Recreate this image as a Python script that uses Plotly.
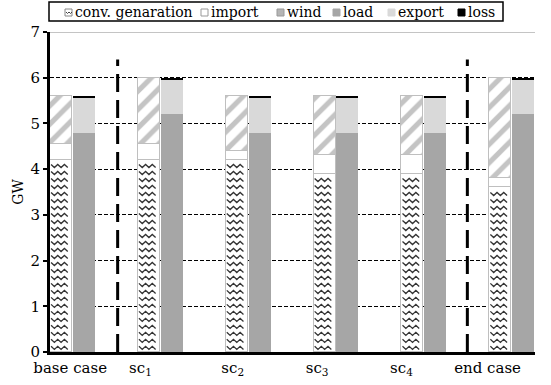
import plotly.graph_objects as go

# ---------------- data ----------------
categories = ["base case", "sc<sub>1</sub>", "sc<sub>2</sub>", "sc<sub>3</sub>", "sc<sub>4</sub>", "end case"]
series_names = ["conv. genaration", "import", "wind", "load", "export", "loss"]
conv_generation = [4.2, 4.2, 4.2, 3.9, 3.9, 3.6]
import_ = [0.35, 0.35, 0.2, 0.4, 0.4, 0.2]
wind = [1.05, 1.45, 1.2, 1.3, 1.3, 2.2]
load = [4.8, 5.2, 4.8, 4.8, 4.8, 5.2]
export = [0.75, 0.75, 0.75, 0.75, 0.75, 0.75]
loss = [0.05, 0.05, 0.05, 0.05, 0.05, 0.05]
y_ticks = [0, 1, 2, 3, 4, 5, 6, 7]

# ---------------- layout constants ----------------
FONT = "DejaVu Serif"
W, H = 551, 385
ML, MR, MT, MB = 50, 16, 32, 33
BAR_W = 0.25
n = len(categories)
left_x = [i - BAR_W / 2 for i in range(n)]
right_x = [i + BAR_W / 2 + 0.01 for i in range(n)]
label_shift = [-0.02, -0.22, -0.17, -0.21, -0.25, -0.27]
separators = [0.52, 4.5]
SEP_TOP = 6.4

C_EDGE = "#bfbfbf"
C_WIND = "#8a8a8a"
C_LOAD = "#a6a6a6"
C_EXPORT = "#d9d9d9"
C_LOSS = "black"
C_ZIG = "#333333"

fig = go.Figure()

edge = dict(color=C_EDGE, width=1)
fig.add_trace(go.Bar(name=series_names[0], x=left_x, y=conv_generation, width=BAR_W,
                     marker=dict(color="white", line=edge)))
fig.add_trace(go.Bar(name=series_names[1], x=left_x, y=import_, width=BAR_W,
                     marker=dict(color="white", line=edge)))
fig.add_trace(go.Bar(name=series_names[2], x=left_x, y=wind, width=BAR_W,
                     marker=dict(color="white", line=edge,
                                 pattern=dict(shape="/", fgcolor=C_WIND, bgcolor="white", size=13, solidity=0.4))))
fig.add_trace(go.Bar(name=series_names[3], x=right_x, y=load, width=BAR_W,
                     marker=dict(color=C_LOAD, line=dict(width=0))))
fig.add_trace(go.Bar(name=series_names[4], x=right_x, y=export, width=BAR_W,
                     marker=dict(color=C_EXPORT, line=dict(width=0))))
fig.add_trace(go.Bar(name=series_names[5], x=right_x, y=loss, width=BAR_W,
                     marker=dict(color=C_LOSS, line=dict(width=0))))

# zigzag texture over the conventional generation bars (derived from the data)
zx, zy = [], []
ROW = 0.153
PER = 0.076
AMP = 0.034
for i in range(n):
    x0 = left_x[i] - BAR_W / 2 + 0.012
    x1 = left_x[i] + BAR_W / 2 - 0.012
    yrow = 0.09
    while yrow < conv_generation[i] - 0.04:
        k = 0
        xx = x0
        while xx <= x1 + 1e-9:
            zx.append(xx)
            zy.append(yrow + (AMP if k % 2 == 0 else -AMP))
            xx += PER / 2
            k += 1
        zx.append(None)
        zy.append(None)
        yrow += ROW
fig.add_trace(go.Scatter(x=zx, y=zy, mode="lines", line=dict(color=C_ZIG, width=1.3),
                         showlegend=False, hoverinfo="skip"))

shapes = []
annotations = []
for s in separators:
    shapes.append(dict(type="line", xref="x", yref="y", x0=s, x1=s, y0=0, y1=SEP_TOP,
                       line=dict(color="black", width=3, dash="18px,8px"), layer="above"))
shapes.append(dict(type="line", xref="paper", yref="y", x0=0, x1=1, y0=7, y1=7,
                   line=dict(color="#b0b0b0", width=1.5), layer="above"))

# ---- manual legend (pixel layout converted to paper coords) ----
PW = W - ML - MR
PH = H - MT - MB


def px(xp):
    return (xp - ML) / PW


def py(yp):
    return (H - MB - yp) / PH


shapes.append(dict(type="rect", xref="paper", yref="paper", x0=px(49), x1=px(503), y0=py(21), y1=py(2),
                   line=dict(color="black", width=1.5), fillcolor="white"))
swatch_x = [65, 201, 277, 333, 388, 458]
text_x = [73, 209, 285, 341, 396, 466]
swatch_fill = ["white", "white", "#b5b5b5", C_LOAD, C_EXPORT, C_LOSS]
swatch_line = ["#888888", "#999999", "#999999", C_LOAD, C_EXPORT, C_LOSS]
for k, name in enumerate(series_names):
    shapes.append(dict(type="rect", xref="paper", yref="paper",
                       x0=px(swatch_x[k]), x1=px(swatch_x[k] + 7), y0=py(16), y1=py(9),
                       line=dict(color=swatch_line[k], width=1), fillcolor=swatch_fill[k]))
    annotations.append(dict(text=name, xref="paper", yref="paper", x=px(text_x[k]), y=py(11.5),
                            xanchor="left", yanchor="middle", showarrow=False,
                            font=dict(family=FONT, size=14, color="black")))
# small zigzag mark in the conv. swatch
shapes.append(dict(type="path", xref="paper", yref="paper",
                   path="M {} {} L {} {} L {} {} L {} {} L {} {}".format(
                       px(66), py(12), px(67.5), py(13.5), px(69), py(12), px(70.5), py(13.5), px(72), py(12)),
                   line=dict(color="#444444", width=1)))

fig.update_layout(
    width=W, height=H,
    margin=dict(l=ML, r=MR, t=MT, b=MB, autoexpand=False),
    barmode="stack",
    bargap=0,
    plot_bgcolor="white", paper_bgcolor="white",
    font=dict(family=FONT, size=15, color="black"),
    shapes=shapes,
    annotations=annotations,
    showlegend=False,
    xaxis=dict(range=[-0.25, 5.27], showgrid=False, zeroline=False, automargin=False,
               showline=True, linecolor="black", linewidth=3,
               tickmode="array", tickvals=[i + label_shift[i] for i in range(n)],
               ticktext=categories, ticks="", tickfont=dict(family=FONT, size=15)),
    yaxis=dict(range=[0, 7], tickvals=y_ticks, showgrid=True, gridcolor="black",
               griddash="4px,2px", gridwidth=1, zeroline=False, automargin=False,
               showline=True, linecolor="black", linewidth=3,
               ticks="outside", ticklen=4, tickwidth=2, tickcolor="black",
               tickfont=dict(family=FONT, size=15),
               title=dict(text="GW", font=dict(family=FONT, size=14), standoff=4)),
)

fig.write_html("out.html", config={"displayModeBar": False},
               post_script="document.body.style.margin='0';document.body.style.overflow='hidden';")
